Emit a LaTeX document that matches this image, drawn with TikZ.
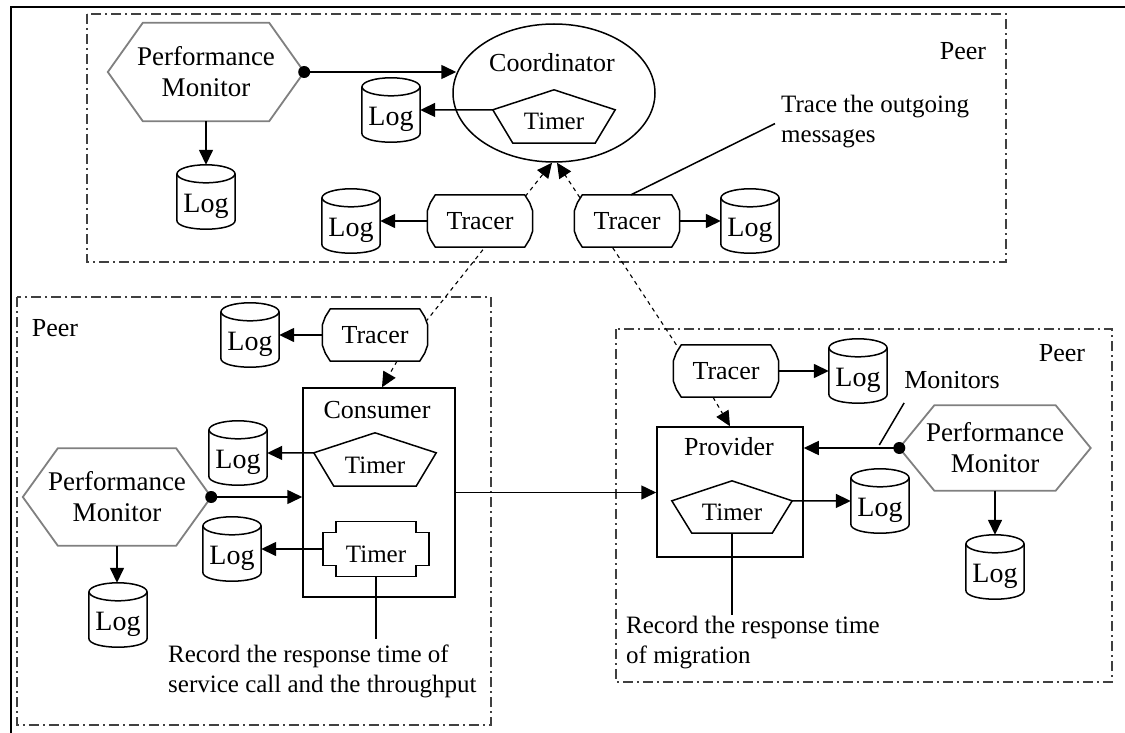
\documentclass[tikz,border=0pt]{standalone}
\usepackage{fontspec}
\setmainfont{Liberation Serif}
\usetikzlibrary{arrows.meta,calc,backgrounds,shapes.geometric}

\tikzset{
  txt/.style={font=\fontsize{26}{30}\selectfont, inner sep=0pt},
  ann/.style={font=\fontsize{25}{30}\selectfont, inner sep=0pt, align=left, anchor=north west},
  pmnode/.style={font=\fontsize{27}{31}\selectfont, inner sep=0pt, align=center, minimum width=192pt, minimum height=97pt},
  tracernode/.style={txt, minimum width=105pt, minimum height=52pt},
  lognode/.style={font=\fontsize{28}{30}\selectfont, inner sep=0pt, minimum width=58pt,
                  minimum height=64pt, text height=31pt, text depth=0pt},
  timernode/.style={font=\fontsize{25}{30}\selectfont, inner sep=0pt, text height=27pt, text depth=0pt},
  compbox/.style={draw, line width=1.5pt, inner sep=0pt},
  peerbox/.style={draw=black!75, line width=1.4pt, dash pattern=on 10pt off 4pt on 2pt off 4pt},
  conn/.style={draw, line width=1.5pt, -{Triangle[length=15pt,width=14pt]}},
  dconn/.style={conn, line width=1.1pt, dash pattern=on 4pt off 4pt},
  plain/.style={draw, line width=1.5pt},
  hexline/.style={draw=black!50, line width=1.8pt, fill=white},
  outline/.style={draw, line width=1.5pt, fill=white},
}

% outline of a performance monitor (flat hexagon)
\newcommand\hexoutline[1]{%
  \draw[hexline] (#1.west) -- ($(#1.north west)+(35,0)$) -- ($(#1.north east)+(-35,0)$)
    -- (#1.east) -- ($(#1.south east)+(-35,0)$) -- ($(#1.south west)+(35,0)$) -- cycle;}
% outline of a tracer (box with bracket-like sides)
\newcommand\traceroutline[1]{%
  \draw[outline] ($(#1.north west)+(8,0)$) -- ($(#1.north east)+(-8,0)$)
    -- ($(#1.north east)+(-3,8)$) -- ($(#1.east)+(0,-10)$) -- ($(#1.east)+(0,10)$)
    -- ($(#1.south east)+(-3,-8)$) -- ($(#1.south east)+(-8,0)$) -- ($(#1.south west)+(8,0)$)
    -- ($(#1.south west)+(3,-8)$) -- ($(#1.west)+(0,10)$) -- ($(#1.west)+(0,-10)$)
    -- ($(#1.north west)+(3,8)$) -- cycle;}
% outline of a log store (upright drum)
\newcommand\drumoutline[1]{%
  \fill[white] ($(#1.north west)+(0,9)$) -- ($(#1.south west)+(0,-9)$)
    .. controls ($(#1.south west)+(0,3)$) and ($(#1.south east)+(0,3)$) .. ($(#1.south east)+(0,-9)$)
    -- ($(#1.north east)+(0,9)$) -- cycle;
  \draw[plain] ($(#1.north west)+(0,9)$) -- ($(#1.south west)+(0,-9)$)
    .. controls ($(#1.south west)+(0,3)$) and ($(#1.south east)+(0,3)$) .. ($(#1.south east)+(0,-9)$)
    -- ($(#1.north east)+(0,9)$);
  \draw[outline] ($(#1.north)+(0,9)$) ellipse [x radius=29pt, y radius=9pt];}
% outline of a timer (pentagon)
\newcommand\pentaoutline[1]{%
  \draw[outline] ($(#1.north west)+(0,20)$) -- (#1.north) -- ($(#1.north east)+(0,20)$)
    -- ($(#1.south east)+(-20,0)$) -- ($(#1.south west)+(20,0)$) -- cycle;}
% outline of a timer with notched corners
\newcommand\notchoutline[1]{%
  \draw[outline] ($(#1.north west)+(13,0)$) -- ($(#1.north east)+(-13,0)$)
    -- ($(#1.north east)+(-13,11)$) -- ($(#1.north east)+(0,11)$)
    -- ($(#1.south east)+(0,-11)$) -- ($(#1.south east)+(-13,-11)$)
    -- ($(#1.south east)+(-13,0)$) -- ($(#1.south west)+(13,0)$)
    -- ($(#1.south west)+(13,-11)$) -- ($(#1.south west)+(0,-11)$)
    -- ($(#1.north west)+(0,11)$) -- ($(#1.north west)+(13,11)$) -- cycle;}

\begin{document}
\begin{tikzpicture}[x=1pt,y=-1pt]
\useasboundingbox (0,0) rectangle (1125,733);
\draw[line width=2pt] (11,7) rectangle (1140,750);

% ---------- top peer: coordinator ----------
\node[pmnode, minimum width=196pt, minimum height=98pt] (pm1) at (206,72) {Performance\\Monitor};
\node[lognode] (L1) at (206,197) {Log};
\node[draw, ellipse, line width=1.5pt, minimum width=202pt, minimum height=138pt, inner sep=0pt] (coord) at (554,93) {};
\node[txt] (coordtxt) at (552,63) {Coordinator};
\node[timernode, minimum width=122pt, minimum height=53pt] (ctimer) at (554,116.5) {Timer};
\node[lognode] (L2) at (391,110) {Log};
\node[tracernode] (T1) at (480,221) {Tracer};
\node[lognode] (L3) at (351,221) {Log};
\node[tracernode] (T2) at (627,221) {Tracer};
\node[lognode] (L4) at (750,221) {Log};
\node[txt] (peer1) at (963,51) {Peer};
\node[ann] (trace) at (781,95) {Trace the outgoing\\messages};

% ---------- left peer: consumer ----------
\node[txt] (peer2) at (55,328) {Peer};
\node[tracernode] (T3) at (375,335) {Tracer};
\node[lognode] (L5) at (250,335) {Log};
\node[compbox, minimum width=152pt, minimum height=209pt] (cons) at (379,492.5) {};
\node[txt] (constxt) at (377,410) {Consumer};
\node[timernode, minimum width=122pt, minimum height=53pt] (ct1) at (375,459.5) {Timer};
\node[lognode] (L6) at (238,453) {Log};
\node[timernode, minimum width=106pt, minimum height=55pt] (ct2) at (376,549) {Timer};
\node[lognode] (L7) at (232,549) {Log};
\node[pmnode, minimum width=188pt] (pm2) at (117,497) {Performance\\Monitor};
\node[lognode] (L8) at (118,615) {Log};
\node[ann] (rec1) at (168,645) {Record the response time of\\service call and the throughput};

% ---------- right peer: provider ----------
\node[txt] (peer3) at (1062,353) {Peer};
\node[tracernode] (T4) at (726,371) {Tracer};
\node[lognode] (L9) at (858,371) {Log};
\node[compbox, minimum width=146pt, minimum height=130pt] (prov) at (730,492) {};
\node[txt] (provtxt) at (729,447) {Provider};
\node[timernode, minimum width=120pt, minimum height=52pt] (pt) at (732,507) {Timer};
\node[lognode] (L10) at (880,501) {Log};
\node[pmnode, minimum width=191pt, minimum height=85pt] (pm3) at (995,448) {Performance\\Monitor};
\node[lognode] (L11) at (995,567) {Log};
\node[txt] (mon) at (952,380) {Monitors};
\node[ann] (rec2) at (626,616) {Record the response time\\of migration};

\begin{pgfonlayer}{background}
  % peer boundaries
  \draw[peerbox] (87,14) rectangle (1006,262);
  \draw[peerbox] (17,297) rectangle (491,725);
  \draw[peerbox] (616,329) rectangle (1112,682);
  % tracer links to the coordinator (pass behind the coordinator's tracers)
  \draw[dconn] ($(T3.north east)+(-2,13)$) -- ($(coord.south)+(-2,0)$);
  \draw[dconn] ($(T4.north west)+(3,0)$) -- ($(coord.south)+(3,0)$);
  \draw[dconn] ($(T3.south)+(22,0)$) -- ($(cons.north)+(3,0)$);
  \draw[dconn] ($(T4.south)+(-13,0)$) -- (prov.north);
  % shapes
  \hexoutline{pm1}\hexoutline{pm2}\hexoutline{pm3}
  \traceroutline{T1}\traceroutline{T2}\traceroutline{T3}\traceroutline{T4}
  \drumoutline{L1}\drumoutline{L2}\drumoutline{L3}\drumoutline{L4}\drumoutline{L5}
  \drumoutline{L6}\drumoutline{L7}\drumoutline{L8}\drumoutline{L9}\drumoutline{L10}\drumoutline{L11}
  \pentaoutline{ctimer}\pentaoutline{ct1}\pentaoutline{pt}
  \notchoutline{ct2}
\end{pgfonlayer}

% ---------- connectors ----------
\draw[conn] (pm1.east) -- ($(pm1.east -| coord.west)+(4,0)$);
\fill (pm1.east) circle (6pt);
\draw[conn] (pm1.south) -- (pm1.south |- L1.north);
\draw[conn] ($(ctimer.north west)+(0,20)$) -- (L2.east);
\draw[conn] (T1.west) -- (L3.east);
\draw[conn] (T2.east) -- (L4.west);
\draw[plain] ($(trace.west)+(-6,2)$) -- ($(T2.north)+(4,0)$);

\draw[conn] (T3.west) -- (L5.east);
\draw[conn] ($(ct1.north west)+(0,20)$) -- (L6.east);
\draw[conn] (ct2.west) -- (L7.east);
\draw[conn] (pm2.east) -- (pm2.east -| cons.west);
\fill (pm2.east) circle (6pt);
\draw[conn] (pm2.south) -- (pm2.south |- L8.north);
\draw[plain] (ct2.south) -- ($(ct2.south |- rec1.north)+(0,-6)$);

\draw[conn] (cons.east) -- (cons.east -| prov.west);
\draw[conn] (T4.east) -- (L9.west);
\draw[conn] ($(pt.north east)+(0,20)$) -- (L10.west);
\draw[conn] (pm3.west) -- (pm3.west -| prov.east);
\fill (pm3.west) circle (6pt);
\draw[conn] (pm3.south) -- (pm3.south |- L11.north);
\draw[plain] ($(mon.south west)+(0,14)$) -- ($(pm3.west)+(-20,-3)$);
\draw[plain] (pt.south) -- ($(pt.south |- rec2.north)+(0,-1)$);
\end{tikzpicture}
\end{document}
